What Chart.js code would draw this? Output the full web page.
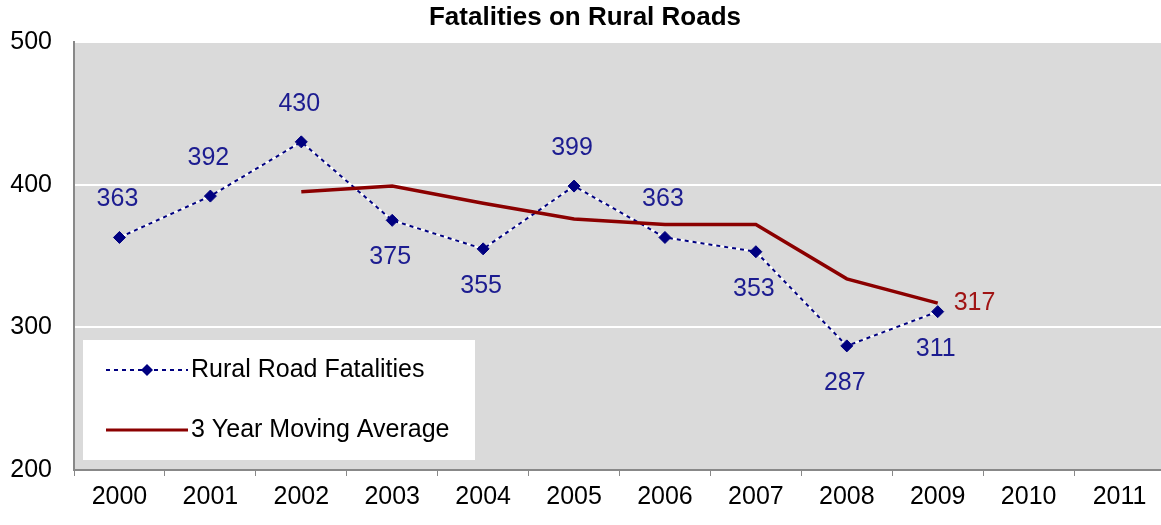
<!DOCTYPE html>
<html>
<head>
<meta charset="utf-8">
<script src="https://cdn.jsdelivr.net/npm/chart.js@4.4.0/dist/chart.umd.min.js"></script>
<style>
    html, body { margin: 0; padding: 0; background: #fff; overflow: hidden; }
    #wrap { width: 1172px; height: 525px; position: relative; }
</style>
</head>
<body>
<div id="wrap"><canvas id="ruralChart"></canvas></div>
<script>
// chart data
const years = ["2000", "2001", "2002", "2003", "2004", "2005", "2006", "2007", "2008", "2009", "2010", "2011"];
const fatalities = [363, 392, 430, 375, 355, 399, 363, 353, 287, 311, null, null];
const movingAvg = [null, null, 395, 399, 387, 376, 372, 372, 334, 317, null, null];
const yMin = 200, yMax = 500, yStep = 100;
const chartTitle = "Fatalities on Rural Roads";
const seriesNames = ["Rural Road Fatalities", "3 Year Moving Average"];

const FONT = "'Liberation Sans', Arial, sans-serif";
const NAVY = "#000080";
const DARKRED = "#8B0000";

// which side each fatality label sits on
const labelSide = ["up", "up", "up", "down", "down", "up", "up", "down", "down", "down"];

const plotBackground = {
    id: "plotBackground",
    beforeDraw(chart) {
        const { ctx, chartArea: a } = chart;
        ctx.save();
        ctx.fillStyle = "#DADADA";
        ctx.fillRect(a.left, a.top, a.right - a.left, a.bottom - a.top);
        ctx.restore();
    }
};

const titleAndLabels = {
    id: "titleAndLabels",
    afterDatasetsDraw(chart) {
        const { ctx, chartArea: a } = chart;
        ctx.save();

        // title
        ctx.font = "bold 26px " + FONT;
        ctx.fillStyle = "#000";
        ctx.textAlign = "center";
        ctx.textBaseline = "middle";
        ctx.fillText(chartTitle, 585, 18);

        // value labels
        ctx.font = "25px " + FONT;
        const m1 = chart.getDatasetMeta(1);
        ctx.fillStyle = "#1C1C90";
        m1.data.forEach((pt, i) => {
            if (fatalities[i] == null) return;
            const dy = labelSide[i] === "up" ? -38 : 37;
            ctx.fillText(String(fatalities[i]), pt.x - 2, pt.y + dy);
        });
        const m2 = chart.getDatasetMeta(0);
        const last = movingAvg.length - 1 - [...movingAvg].reverse().findIndex(v => v != null);
        const lp = m2.data[last];
        ctx.fillStyle = "#A01414";
        ctx.textAlign = "left";
        ctx.fillText(String(movingAvg[last]), lp.x + 16, lp.y);

        // legend box
        const bx = a.left + 9, by = a.bottom - 130, bw = 392, bh = 120;
        ctx.fillStyle = "#fff";
        ctx.fillRect(bx, by, bw, bh);

        const r1 = by + 30, r2 = by + 90;
        ctx.lineWidth = 2;
        ctx.strokeStyle = NAVY;
        ctx.setLineDash([4, 4]);
        ctx.beginPath();
        ctx.moveTo(bx + 23, r1);
        ctx.lineTo(bx + 105, r1);
        ctx.stroke();
        ctx.setLineDash([]);
        ctx.fillStyle = NAVY;
        const cx = bx + 64;
        ctx.beginPath();
        ctx.moveTo(cx, r1 - 6); ctx.lineTo(cx + 6, r1); ctx.lineTo(cx, r1 + 6); ctx.lineTo(cx - 6, r1);
        ctx.closePath();
        ctx.fill();

        ctx.strokeStyle = DARKRED;
        ctx.lineWidth = 3;
        ctx.beginPath();
        ctx.moveTo(bx + 23, r2);
        ctx.lineTo(bx + 105, r2);
        ctx.stroke();

        ctx.fillStyle = "#000";
        ctx.textAlign = "left";
        ctx.fillText(seriesNames[0], bx + 108, r1);
        ctx.fillText(seriesNames[1], bx + 108, r2);
        ctx.restore();
    }
};

const ctx = document.getElementById("ruralChart").getContext("2d");
new Chart(ctx, {
    type: "line",
    data: {
        labels: years,
        datasets: [
            {
                label: seriesNames[1],
                data: movingAvg,
                borderColor: DARKRED,
                borderWidth: 3.5,
                pointRadius: 0,
                tension: 0,
                order: 0
            },
            {
                label: seriesNames[0],
                data: fatalities,
                borderColor: NAVY,
                borderWidth: 2,
                borderDash: [4, 4],
                pointStyle: "rectRot",
                pointRadius: 6,
                pointBackgroundColor: NAVY,
                pointBorderColor: NAVY,
                pointBorderWidth: 1,
                tension: 0,
                order: 1
            },
            {
                label: "underlay",
                data: fatalities,
                borderColor: "#fff",
                borderWidth: 2,
                pointRadius: 0,
                tension: 0,
                order: 2
            }
        ]
    },
    options: {
        responsive: true,
        maintainAspectRatio: false,
        animation: false,
        layout: { padding: { top: 42, left: 0, right: 0, bottom: 0 } },
        plugins: {
            legend: { display: false },
            title: { display: false },
            tooltip: { enabled: false }
        },
        scales: {
            x: {
                offset: true,
                grid: {
                    offset: true,
                    drawOnChartArea: false,
                    drawTicks: true,
                    tickLength: 6,
                    color: "#888"
                },
                border: { color: "#888", width: 2 },
                ticks: {
                    color: "#000",
                    font: { family: FONT, size: 25 },
                    padding: 6,
                    maxRotation: 0,
                    autoSkip: false
                },
                afterFit(scale) { scale.height = 55; }
            },
            y: {
                min: yMin,
                max: yMax,
                grid: { color: "#fff", lineWidth: 2, drawTicks: false },
                border: { color: "#888", width: 2 },
                ticks: {
                    stepSize: yStep,
                    color: "#000",
                    font: { family: FONT, size: 25 },
                    padding: 22
                },
                afterFit(scale) { scale.width = 74; }
            }
        }
    },
    plugins: [plotBackground, titleAndLabels]
});
</script>
</body>
</html>
